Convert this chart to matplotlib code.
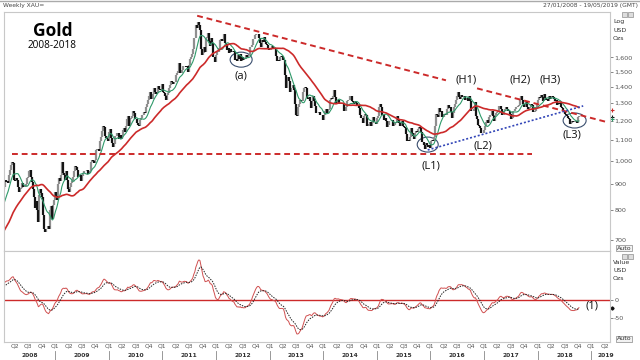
import numpy as np
import pandas as pd
import matplotlib
matplotlib.use("Agg")
import matplotlib.pyplot as plt
from matplotlib.patches import Ellipse, Rectangle
from matplotlib.transforms import ScaledTranslation, blended_transform_factory
from matplotlib.ticker import FixedLocator, FuncFormatter, NullLocator

# ---------------- data: weekly closes (USD/oz) ----------------
close_2007 = [680, 690, 685, 683, 680, 670, 665, 655, 660, 650, 655, 650, 660, 665, 680, 670,
              670, 665, 660, 670, 672, 680, 705, 715, 730, 740, 745, 760, 785,
              800, 810, 790, 800, 790, 800, 800, 790, 810, 835]
close_2008 = [860, 880, 890, 920, 910, 915, 905, 940, 960, 985, 995, 990, 920,
              915, 925, 920, 890, 870, 880, 885, 905, 890, 890, 895, 900, 925,
              930, 955, 960, 930, 910, 880, 850, 810, 835, 800, 760, 860, 880,
              865, 850, 785, 735, 725, 735, 745, 735, 800, 815, 770, 820, 840, 870]
close_2009 = [855, 840, 900, 925, 915, 940, 995, 950, 940, 920, 955, 920,
              880, 870, 890, 905, 915, 930, 955, 980, 975, 960, 930, 935, 940,
              915, 935, 950, 955, 955, 960, 945, 950, 955, 995, 1005, 1000, 990,
              1005, 1050, 1055, 1055, 1045, 1095, 1115, 1145, 1175, 1165, 1120, 1110, 1105, 1095]
close_2010 = [1140, 1155, 1110, 1085, 1065, 1080, 1120, 1120, 1135, 1105, 1125, 1105,
              1125, 1150, 1160, 1140, 1175, 1210, 1225, 1175, 1210, 1215, 1225, 1255, 1245,
              1210, 1210, 1190, 1180, 1170, 1205, 1215, 1230, 1235, 1250, 1245, 1275, 1295,
              1320, 1345, 1370, 1325, 1355, 1395, 1365, 1355, 1365, 1405, 1385, 1380, 1380, 1420]
close_2011 = [1370, 1360, 1345, 1320, 1350, 1360, 1390, 1410, 1435, 1430, 1420, 1430,
              1430, 1475, 1490, 1505, 1560, 1490, 1490, 1510, 1535, 1540, 1530, 1540, 1500,
              1545, 1590, 1600, 1625, 1660, 1745, 1745, 1850, 1830, 1880, 1855, 1810, 1660, 1620,
              1635, 1680, 1640, 1745, 1755, 1790, 1725, 1685, 1745, 1710, 1600, 1605, 1565]
close_2012 = [1615, 1640, 1665, 1730, 1735, 1725, 1725, 1775, 1710, 1700, 1655, 1665,
              1630, 1660, 1640, 1640, 1645, 1640, 1580, 1590, 1575, 1620, 1590, 1625, 1570,
              1600, 1580, 1590, 1585, 1620, 1600, 1620, 1615, 1675, 1690, 1735, 1740, 1770, 1775,
              1780, 1775, 1745, 1710, 1680, 1730, 1715, 1750, 1715, 1700, 1695, 1660, 1655]
close_2013 = [1655, 1665, 1685, 1660, 1665, 1670, 1610, 1575, 1580, 1575, 1605, 1610, 1600,
              1580, 1475, 1395, 1435, 1465, 1440, 1365, 1390, 1395, 1410, 1380, 1295, 1235,
              1225, 1280, 1295, 1320, 1310, 1315, 1370, 1395, 1400, 1390, 1330, 1325, 1335,
              1310, 1270, 1315, 1345, 1315, 1285, 1245, 1245, 1250, 1230, 1235, 1230, 1205]
close_2014 = [1235, 1255, 1265, 1245, 1260, 1265, 1320, 1330, 1325, 1340, 1380, 1335, 1295,
              1300, 1320, 1295, 1300, 1300, 1295, 1295, 1255, 1255, 1275, 1315, 1320,
              1320, 1340, 1310, 1305, 1295, 1310, 1300, 1285, 1285, 1270, 1230, 1215, 1215,
              1190, 1225, 1240, 1230, 1170, 1170, 1185, 1195, 1175, 1190, 1220, 1195, 1195, 1185]
close_2015 = [1215, 1225, 1280, 1295, 1280, 1235, 1230, 1205, 1215, 1200, 1165, 1180, 1200,
              1200, 1200, 1205, 1175, 1180, 1190, 1225, 1205, 1190, 1170, 1180, 1200, 1175,
              1165, 1160, 1130, 1095, 1100, 1095, 1115, 1160, 1135, 1120, 1105, 1135, 1145,
              1140, 1155, 1165, 1160, 1140, 1090, 1090, 1075, 1055, 1085, 1075, 1065, 1075, 1060]
close_2016 = [1095, 1100, 1095, 1115, 1175, 1240, 1230, 1220, 1270, 1250, 1255, 1220, 1220,
              1240, 1235, 1230, 1265, 1290, 1270, 1275, 1250, 1215, 1245, 1275, 1295, 1320,
              1340, 1365, 1335, 1325, 1350, 1335, 1340, 1340, 1320, 1330, 1330, 1315, 1340, 1315,
              1255, 1255, 1255, 1265, 1305, 1225, 1210, 1180, 1175, 1160, 1135, 1135, 1150]
close_2017 = [1175, 1195, 1205, 1190, 1220, 1235, 1235, 1255, 1225, 1200, 1230, 1245, 1250,
              1255, 1285, 1285, 1265, 1230, 1230, 1255, 1265, 1280, 1265, 1255, 1255, 1240,
              1210, 1215, 1255, 1255, 1265, 1275, 1285, 1290, 1325, 1345, 1320, 1295, 1280,
              1275, 1305, 1280, 1265, 1270, 1275, 1295, 1290, 1250, 1250, 1255, 1275, 1300]
close_2018 = [1320, 1335, 1330, 1350, 1335, 1315, 1355, 1330, 1320, 1325, 1315, 1345, 1325,
              1335, 1345, 1335, 1325, 1315, 1320, 1290, 1300, 1295, 1300, 1280, 1270, 1255,
              1255, 1240, 1230, 1225, 1215, 1210, 1185, 1190, 1200, 1195, 1195, 1200, 1200,
              1190, 1220, 1225]

# period each yearly list covers (decimal years)
year_spans = [(2007.25, 2008.0, close_2007), (2008.0, 2009.0, close_2008), (2009.0, 2010.0, close_2009),
              (2010.0, 2011.0, close_2010), (2011.0, 2012.0, close_2011), (2012.0, 2013.0, close_2012),
              (2013.0, 2014.0, close_2013), (2014.0, 2015.0, close_2014), (2015.0, 2016.0, close_2015),
              (2016.0, 2017.0, close_2016), (2017.0, 2018.0, close_2017), (2018.0, 2018.78, close_2018)]

# annotation data
hline_level = 1033
hline_range = (2008.196, 2017.90)
down_trend = [(2011.65, 1931), (2019.30, 1193)]
down_gap = (2016.29, 2016.87)
up_trend = [(2015.95, 1052), (2018.85, 1284)]
main_labels = [("(a)", 2012.47, 1473), ("(H1)", 2016.67, 1443), ("(H2)", 2017.68, 1443),
               ("(H3)", 2018.23, 1443), ("(L1)", 2016.01, 978), ("(L2)", 2016.98, 1071),
               ("(L3)", 2018.64, 1126)]
circles = [(2012.47, 1583, 22, 15), (2015.95, 1078, 21, 15), (2018.69, 1202, 23, 15)]
main_yticks = [700, 800, 900, 1000, 1100, 1200, 1300, 1400, 1500, 1600]
osc_yticks = [0, -50]

# ---------------- build series ----------------
xs, closes = [], []
for y0, y1, vals in year_spans:
    n = len(vals)
    xs += [y0 + (i + 0.5) * (y1 - y0) / n for i in range(n)]
    closes += vals
x = np.array(xs)
s = pd.Series(closes, dtype=float)
opens = s.shift(1).fillna(s.iloc[0])
ma_long = s.rolling(40, min_periods=1).mean()
ma_short = s.rolling(10, min_periods=1).mean()
macd = s.ewm(span=12, adjust=False).mean() - s.ewm(span=26, adjust=False).mean()
signal = macd.ewm(span=9, adjust=False).mean()

# ---------------- figure ----------------
W, H = 640, 360
fig = plt.figure(figsize=(6.4, 3.6), dpi=100)
fig.patch.set_facecolor("white")

def fx(px):
    return px / W

def fy(py):
    return 1 - py / H

XL = (2008.047, 2019.35)
ax = fig.add_axes([fx(4), fy(251), fx(610) - fx(4), fy(12) - fy(251)])
ax2 = fig.add_axes([fx(4), fy(342), fx(610) - fx(4), fy(251) - fy(342)])

RED = "#cc2a2a"
GREY_SP = "#c8c8c8"

# candles
up = (s >= opens).values
ax.vlines(x[up], opens[up], s[up], color="#8f8f8f", lw=1.6)
ax.vlines(x[~up], opens[~up], s[~up], color="#151515", lw=1.6)
ax.plot(x, ma_short, color="#2f9a6a", lw=0.8)
ax.plot(x, ma_long, color=RED, lw=1.2)

ax.set_yscale("log")
ax.set_ylim(666, 1964)
ax.set_xlim(*XL)

# horizontal support
ax.plot(hline_range, [hline_level, hline_level], color=RED, lw=1.4, ls=(0, (3, 2)))

# descending trend (log-linear), with a gap
def trend_val(pts, xv):
    (x0, p0), (x1, p1) = pts
    return np.exp(np.interp(xv, [x0, x1], [np.log(p0), np.log(p1)]))

seg1 = np.array([down_trend[0][0], down_gap[0]])
seg2 = np.array([down_gap[1], down_trend[1][0]])
ax.plot(seg1, trend_val(down_trend, seg1), color=RED, lw=1.4, ls=(0, (3, 2)))
ax.plot(seg2, trend_val(down_trend, seg2), color=RED, lw=1.4, ls=(0, (3, 2)))
ax.plot([p[0] for p in up_trend], [p[1] for p in up_trend], color="#3346b8", lw=1.2, ls=(0, (1.2, 1.2)))

for cx, cy, w, h in circles:
    tr = fig.dpi_scale_trans + ScaledTranslation(cx, cy, ax.transData)
    ax.add_patch(Ellipse((0, 0), w / 100, h / 100, transform=tr, fill=False, ec="#3a4e6e", lw=0.8))

for txt, lx, ly in main_labels:
    ax.text(lx, ly, txt, ha="center", va="center", fontsize=8, family="Open Sans", color="#111111")

ax.yaxis.tick_right()
ax.yaxis.set_major_locator(FixedLocator(main_yticks))
ax.yaxis.set_minor_locator(NullLocator())
ax.yaxis.set_major_formatter(FuncFormatter(lambda v, p: f"{int(v):,}"))
ax.tick_params(axis="y", labelsize=4.6, colors="#555555", length=2, width=0.5, pad=1)
ax.set_xticks([])
for sp in ax.spines.values():
    sp.set_color(GREY_SP)
    sp.set_linewidth(0.8)

# oscillator panel
ax2.axhline(0, color=RED, lw=1.0)
ax2.plot(x, macd, color="#d05050", lw=0.7)
ax2.plot(x, signal, color="#222222", lw=0.7, ls=(0, (1.5, 1.2)))
ax2.set_xlim(*XL)
ax2.set_ylim(-117, 134)
ax2.yaxis.tick_right()
ax2.set_yticks(osc_yticks)
ax2.set_yticklabels([str(v) for v in osc_yticks])
ax2.tick_params(axis="y", labelsize=4.6, colors="#555555", length=2, width=0.5, pad=1)
ax2.set_xticks([])
for sp in ax2.spines.values():
    sp.set_color(GREY_SP)
    sp.set_linewidth(0.8)
ax2.text(2019.02, -19, "(1)", ha="center", va="center", fontsize=8, family="Open Sans", color="#111111")

# time axis labels (quarters + years)
bt = blended_transform_factory(ax2.transData, fig.transFigure)
for yr in range(2008, 2020):
    for q in range(4):
        xq = yr + q / 4
        if XL[0] < xq < XL[1]:
            ax2.text(xq, fy(346), f"Q{q+1}", transform=bt, ha="center", va="center",
                     fontsize=4.3, color="#555555")
    if XL[0] < yr < XL[1]:
        ax2.add_artist(plt.Line2D([yr, yr], [fy(351), fy(360)], transform=bt,
                                  color="#888888", lw=0.6, clip_on=False))
    lo, hi = max(yr, XL[0]), min(yr + 1, XL[1])
    xc = (lo + hi) / 2 if yr < 2019 else yr + 0.28
    ax2.text(xc, fy(355.5), str(yr), transform=bt, ha="center", va="center",
             fontsize=4.3, color="#333333", fontweight="bold")

# titles and header texts
fig.text(fx(53), fy(31), "Gold", ha="center", va="center", fontsize=12.5, fontweight="bold", family="Open Sans")
fig.text(fx(52), fy(46), "2008-2018", ha="center", va="center", fontsize=7.2, family="Open Sans")
fig.text(fx(3), fy(5), "Weekly XAU=", ha="left", va="center", fontsize=4.3, color="#444444")
fig.text(fx(638), fy(5), "27/01/2008 - 19/05/2019 (GMT)", ha="right", va="center", fontsize=4.3, color="#444444")
for i, t in enumerate(["Log", "USD", "Ozs"]):
    fig.text(fx(613), fy(22 + 8 * i), t, ha="left", va="center", fontsize=4.5, color="#333333")
for i, t in enumerate(["Value", "USD", "Ozs"]):
    fig.text(fx(613), fy(263 + 8 * i), t, ha="left", va="center", fontsize=4.5, color="#333333")
for yy in (248, 339):
    fig.text(fx(624), fy(yy), "Auto", ha="center", va="center", fontsize=4.5, color="#333333",
             bbox=dict(boxstyle="square,pad=0.15", fc="#f2f2f2", ec="#888888", lw=0.5))
for yy in (14, 256):
    for xx in (622, 628):
        fig.add_artist(Rectangle((fx(xx), fy(yy + 2.5)), fx(5), 5 / H, transform=fig.transFigure,
                                 fc="#dddddd", ec="#777777", lw=0.4))
# top border line
fig.add_artist(plt.Line2D([0, 1], [fy(0.5), fy(0.5)], color="#aaaaaa", lw=1))

# last-value markers on the right edge
ax.plot([1.004], [1262], marker="+", color=RED, ms=3, mew=0.8, transform=ax.get_yaxis_transform(), clip_on=False)
ax.plot([1.004], [1222], marker="+", color="#111111", ms=3, mew=0.8, transform=ax.get_yaxis_transform(), clip_on=False)
ax.plot([1.004], [1208], marker="+", color="#2f9a6a", ms=3, mew=0.8, transform=ax.get_yaxis_transform(), clip_on=False)
ax2.plot([1.004], [-22], marker="D", color="#111111", ms=1.6, transform=ax2.get_yaxis_transform(), clip_on=False)

fig.savefig("out.png", dpi=100, facecolor="white")
